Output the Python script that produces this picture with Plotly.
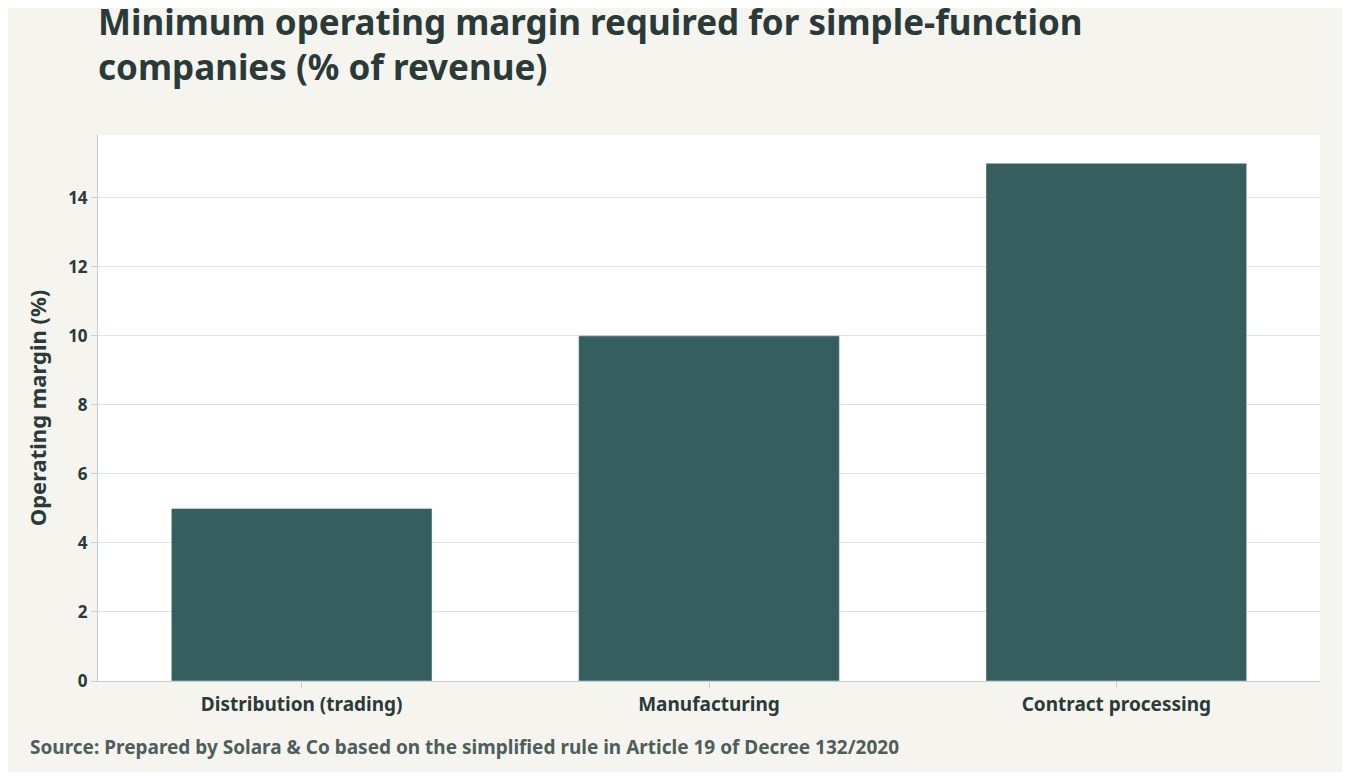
import plotly.graph_objects as go

categories = ["Distribution (trading)", "Manufacturing", "Contract processing"]
values = [5, 10, 15]
y_ticks = [0, 2, 4, 6, 8, 10, 12, 14]

fig = go.Figure(go.Bar(x=categories, y=values, marker_color="#375e5f", width=0.64))
fig.update_layout(
    width=1334, height=764,
    paper_bgcolor="#f5f4ef", plot_bgcolor="#ffffff",
    font=dict(family="Noto Sans", color="#2a3a38", size=18),
    title=dict(text="<b>Minimum operating margin required for simple-function<br>companies (% of revenue)</b>",
               x=90/1334, xanchor="left", y=0.965, yanchor="top",
               font=dict(size=35, color="#2a3a38")),
    margin=dict(l=90, r=22, t=127, b=91),
    showlegend=False,
    annotations=[dict(text="<b>Source: Prepared by Solara & Co based on the simplified rule in Article 19 of Decree 132/2020</b>",
                      xref="paper", yref="paper", x=-70/1222, y=-0.12, xanchor="left", yanchor="middle",
                      showarrow=False, font=dict(size=19, color="#4f5e5c"))],
)
fig.update_yaxes(range=[0, 15.82], tickvals=y_ticks, gridcolor="#dde3e6", ticks="outside",
                 ticklen=6, tickcolor="#c8cfd2", zeroline=False,
                 title=dict(text="<b>Operating margin (%)</b>", font=dict(size=22)),
                 tickfont=dict(size=17, weight="bold"), linecolor="#c8cfd2")
fig.update_xaxes(ticks="outside", ticklen=6, tickcolor="#c8cfd2", showline=True,
                 linecolor="#c8cfd2", tickfont=dict(size=19, weight="bold"))
fig.write_html("out.html")
